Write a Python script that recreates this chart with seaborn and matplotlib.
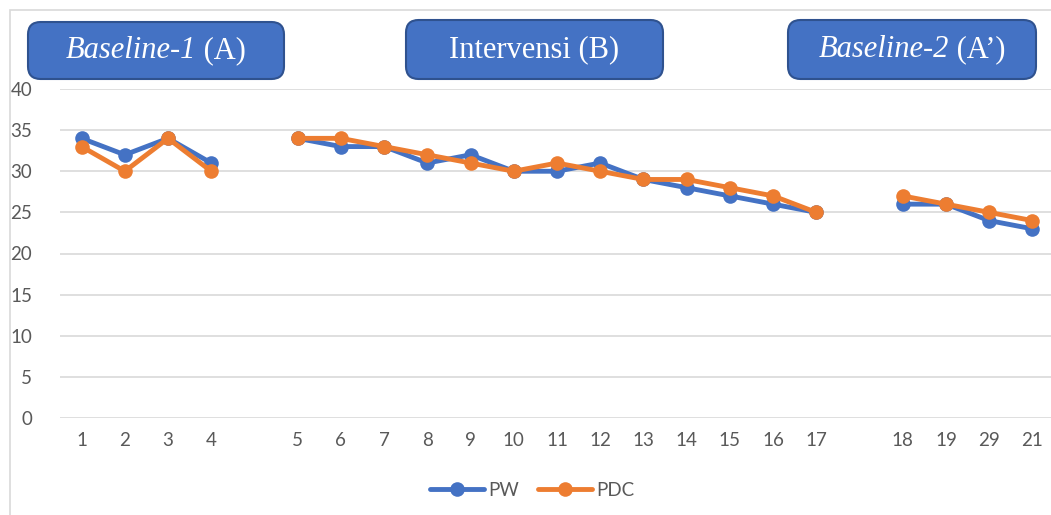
import numpy as np
import pandas as pd
import matplotlib
matplotlib.use("Agg")
import matplotlib.pyplot as plt
from matplotlib.patches import FancyBboxPatch, Rectangle
from matplotlib.lines import Line2D
import seaborn as sns

# ---- data ----
slot_labels = ["1", "2", "3", "4", "", "5", "6", "7", "8", "9", "10", "11", "12",
               "13", "14", "15", "16", "17", "", "18", "19", "29", "21"]
phases = ["A", "A", "A", "A", None, "B", "B", "B", "B", "B", "B", "B", "B",
          "B", "B", "B", "B", "B", None, "C", "C", "C", "C"]
pw = [34, 32, 34, 31, np.nan, 34, 33, 33, 31, 32, 30, 30, 31, 29, 28, 27, 26, 25,
      np.nan, 26, 26, 24, 23]
pdc = [33, 30, 34, 30, np.nan, 34, 34, 33, 32, 31, 30, 31, 30, 29, 29, 28, 27, 25,
       np.nan, 27, 26, 25, 24]
series_names = ["PW", "PDC"]
colors = {"PW": "#4472C4", "PDC": "#ED7D31"}
phase_titles = [("Baseline-1", " (A)"), ("", "Intervensi (B)"), ("Baseline-2", " (A\u2019)")]

rows = []
for name, vals in zip(series_names, [pw, pdc]):
    for i, (v, ph) in enumerate(zip(vals, phases)):
        if ph is not None and not np.isnan(v):
            rows.append({"pos": i, "value": v, "series": name, "phase": ph})
df = pd.DataFrame(rows)

sns.set_theme(style="white")
plt.rcParams["font.family"] = ["Lato", "DejaVu Sans"]

fig = plt.figure(figsize=(10.51, 5.15), dpi=100)
W, H = 1051, 515
ax = fig.add_axes([60 / W, 1 - 418 / H, (W - 60) / W, (418 - 89) / H])

sns.lineplot(data=df, x="pos", y="value", hue="series", units="phase",
             estimator=None, palette=colors, hue_order=series_names,
             marker="o", markersize=10.5, markeredgewidth=0, linewidth=3.5,
             ax=ax, legend=False, sort=True)

ax.set_ylim(0, 40)
ax.set_yticks(np.arange(0, 41, 5))
ax.set_xlim(-0.5, (W - 82) / 43.2)
ax.set_xticks(range(len(slot_labels)))
ax.set_xticklabels(slot_labels)
ax.set_xlabel("")
ax.set_ylabel("")
ax.grid(axis="y", color="#d9d9d9", linewidth=1.2)
ax.grid(axis="x", visible=False)
for s in ax.spines.values():
    s.set_visible(False)
ax.tick_params(axis="both", length=0, labelsize=13.5, labelcolor="#595959")
ax.tick_params(axis="y", pad=20)
ax.tick_params(axis="x", pad=10)
for lbl in ax.get_yticklabels():
    lbl.set_horizontalalignment("right")

# chart frame
fig.patches.append(Rectangle((10 / W, -0.1), 1.2, 1 - 10 / H + 0.1,
                             transform=fig.transFigure, fill=False,
                             edgecolor="#d9d9d9", linewidth=1.2))

# legend
handles = [Line2D([0], [0], color=colors[n], marker="o", markersize=10.5,
                  markeredgewidth=0, linewidth=3.5) for n in series_names]
fig.legend(handles, series_names, loc="center", bbox_to_anchor=(532 / W, 1 - 490 / H),
           ncol=2, frameon=False, fontsize=13.5, labelcolor="#595959",
           handlelength=2.9, handletextpad=0.2, columnspacing=1.0)

# phase boxes
boxes = [(28, 22, 284, 79), (406, 20, 663, 79), (788, 20, 1036, 79)]
fig.canvas.draw()
renderer = fig.canvas.get_renderer()
for (x0, y0, x1, y1), (ital, rest) in zip(boxes, phase_titles):
    patch = FancyBboxPatch((x0 / W, 1 - y1 / H), (x1 - x0) / W, (y1 - y0) / H,
                           boxstyle="round,pad=0,rounding_size=0.012",
                           transform=fig.transFigure, facecolor="#4472C4",
                           edgecolor="#2F528F", linewidth=1.5,
                           mutation_aspect=W / H)
    fig.patches.append(patch)
    cx = (x0 + x1) / 2 / W
    cy = 1 - (y0 + y1) / 2 / H
    t1 = fig.text(0, cy, ital, fontsize=22, family="Liberation Serif",
                  style="italic", color="white", va="center", ha="left")
    t2 = fig.text(0, cy, rest, fontsize=22, family="Liberation Serif",
                  color="white", va="center", ha="left")
    w1 = t1.get_window_extent(renderer).width if ital else 0
    w2 = t2.get_window_extent(renderer).width
    total = (w1 + w2) / W
    start = cx - total / 2
    t1.set_x(start)
    t2.set_x(start + w1 / W)

fig.savefig("out.png", dpi=100)
